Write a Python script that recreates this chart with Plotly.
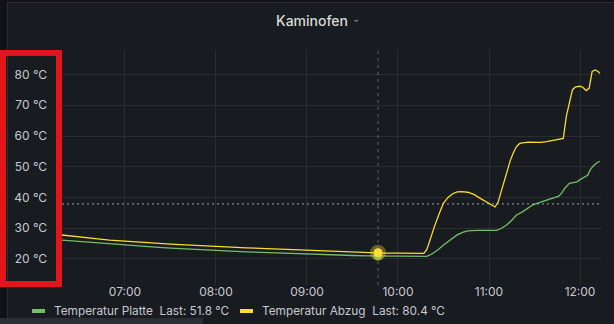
import plotly.graph_objects as go

DAY = "2021-01-10 "

# ---- data ----
abzug_times = ["06:18", "06:26", "06:34", "06:42", "06:50", "07:00", "07:10", "07:20", "07:30", "07:40",
               "07:50", "08:00", "08:10", "08:20", "08:30", "08:40", "08:50", "09:00", "09:10", "09:20",
               "09:30", "09:40", "09:50", "10:00", "10:10", "10:17", "10:19", "10:21", "10:24", "10:27",
               "10:30", "10:33", "10:36", "10:39", "10:42", "10:46", "10:50", "10:54", "10:58", "11:02",
               "11:04", "11:06", "11:08", "11:10", "11:12", "11:14", "11:16", "11:18", "11:20", "11:22",
               "11:26", "11:30", "11:34", "11:38", "11:42", "11:46", "11:49", "11:50", "11:51", "11:53",
               "11:55", "11:57", "12:00", "12:02", "12:04", "12:06", "12:07", "12:08", "12:10", "12:12",
               "12:13"]
abzug_values = [27.8, 27.3, 26.9, 26.5, 26.1, 25.7, 25.4, 25.1, 24.8, 24.5,
                24.3, 24.0, 23.8, 23.6, 23.4, 23.2, 22.9, 22.7, 22.5, 22.3,
                22.2, 22.0, 21.9, 21.9, 21.8, 21.8, 23.0, 26.2, 30.5, 34.5,
                38.2, 40.0, 41.2, 41.8, 41.9, 41.7, 41.0, 39.8, 38.6, 37.5,
                36.9, 38.5, 42.0, 45.5, 48.5, 52.0, 54.5, 56.5, 57.5, 57.8,
                58.0, 58.0, 57.9, 58.2, 58.5, 58.8, 59.2, 63.0, 66.5, 70.8,
                75.0, 76.0, 76.2, 75.8, 74.8, 75.5, 78.5, 81.0, 81.5, 81.0,
                80.4]

platte_times = ["06:18", "06:28", "06:38", "06:48", "07:00", "07:10", "07:20", "07:30", "07:40", "07:50",
                "08:00", "08:10", "08:20", "08:30", "08:40", "08:50", "09:00", "09:10", "09:20", "09:30",
                "09:40", "09:50", "10:00", "10:10", "10:19", "10:22", "10:26", "10:30", "10:34", "10:39",
                "10:43", "10:46", "10:52", "10:58", "11:05", "11:08", "11:12", "11:15", "11:18", "11:22",
                "11:26", "11:29", "11:34", "11:40", "11:46", "11:48", "11:50", "11:53", "11:55", "11:58",
                "12:00", "12:03", "12:05", "12:07", "12:09", "12:11", "12:13"]
platte_values = [26.1, 25.7, 25.3, 24.9, 24.4, 24.1, 23.8, 23.5, 23.2, 23.0,
                 22.7, 22.5, 22.3, 22.1, 21.9, 21.7, 21.5, 21.4, 21.2, 21.1,
                 21.0, 20.9, 20.8, 20.8, 20.8, 21.5, 22.8, 24.5, 26.0, 27.8,
                 28.7, 29.1, 29.3, 29.3, 29.3, 29.9, 31.2, 32.6, 34.2, 35.3,
                 36.6, 37.6, 38.5, 39.4, 40.4, 41.5, 43.0, 44.6, 44.9, 45.1,
                 45.8, 46.8, 47.2, 49.2, 50.4, 51.2, 51.8]

series_names = ["Temperatur Platte", "Temperatur Abzug"]
series_colors = ["#73bf69", "#fade2a"]
title_text = "Kaminofen"
y_ticks = [20, 30, 40, 50, 60, 70, 80]
x_range = ["06:18:30", "12:13:50"]
y_range = [11.5, 88.0]
hover_time = "09:46:50"
hover_y_value = 37.9

# ---- layout geometry (pixels) ----
W, H = 614, 324
PL, PR, PT, PB = 62, 601, 50, 285


def px(x):
    return (x - PL) / (PR - PL)


def py(y):
    return (PB - y) / (PB - PT)


def value_at(times, values, t):
    v = values[0]
    for tt, vv in zip(times, values):
        if tt <= t:
            v = vv
    return v


BG = "#181b1f"
TXT = "#c7c9d1"
GRID = "#2a2d32"

fig = go.Figure()
fig.add_trace(go.Scatter(x=[DAY + t for t in platte_times], y=platte_values, mode="lines",
                         line=dict(color=series_colors[0], width=1.3, shape="linear"), showlegend=False))
fig.add_trace(go.Scatter(x=[DAY + t for t in abzug_times], y=abzug_values, mode="lines",
                         line=dict(color=series_colors[1], width=1.3, shape="linear"), showlegend=False))

# hover markers
hv_p = value_at(platte_times, platte_values, hover_time[:5])
hv_a = value_at(abzug_times, abzug_values, hover_time[:5])
fig.add_trace(go.Scatter(x=[DAY + hover_time], y=[hv_p], mode="markers",
                         marker=dict(color=series_colors[0], size=9, opacity=0.9, line=dict(width=0)),
                         showlegend=False))
fig.add_trace(go.Scatter(x=[DAY + hover_time], y=[hv_a], mode="markers",
                         marker=dict(color="rgba(250,222,42,0.35)", size=16, line=dict(width=0)),
                         showlegend=False))
fig.add_trace(go.Scatter(x=[DAY + hover_time], y=[hv_a], mode="markers",
                         marker=dict(color=series_colors[1], size=9, line=dict(width=0)),
                         showlegend=False))

shapes = []
# crosshair
shapes.append(dict(type="line", xref="x", yref="paper", x0=DAY + hover_time, x1=DAY + hover_time,
                   y0=0, y1=1, line=dict(color="rgba(204,204,220,0.4)", width=1, dash="3px,4px")))
shapes.append(dict(type="line", xref="paper", yref="y", x0=0, x1=1, y0=hover_y_value, y1=hover_y_value,
                   line=dict(color="rgba(220,220,230,0.7)", width=1, dash="2px,3px")))
# panel frame / outer background
shapes.append(dict(type="rect", xref="paper", yref="paper", x0=px(0), x1=px(7), y0=py(H), y1=py(0),
                   fillcolor="#111217", line=dict(width=0), layer="below"))
shapes.append(dict(type="rect", xref="paper", yref="paper", x0=px(0), x1=px(W), y0=py(2), y1=py(0),
                   fillcolor="#111217", line=dict(width=0), layer="below"))
shapes.append(dict(type="line", xref="paper", yref="paper", x0=px(7.5), x1=px(7.5), y0=py(H), y1=py(2),
                   line=dict(color="#2a2d33", width=1)))
shapes.append(dict(type="line", xref="paper", yref="paper", x0=px(7), x1=px(W), y0=py(2.5), y1=py(2.5),
                   line=dict(color="#2a2d33", width=1)))
shapes.append(dict(type="rect", xref="paper", yref="paper", x0=px(0), x1=px(203), y0=py(H), y1=py(318),
                   fillcolor="#2b2e34", line=dict(width=0)))
# red highlight box
shapes.append(dict(type="rect", xref="paper", yref="paper", x0=px(3), x1=px(59), y0=py(284), y1=py(53),
                   line=dict(color="#e3151a", width=6), fillcolor="rgba(0,0,0,0)"))

# legend (markers)
legend_items = [
    (series_names[0], series_colors[0], platte_values[-1], 32),
    (series_names[1], series_colors[1], abzug_values[-1], 240),
]
annotations = []
for name, col, last, x0 in legend_items:
    shapes.append(dict(type="line", xref="paper", yref="paper", x0=px(x0), x1=px(x0 + 13),
                       y0=py(311), y1=py(311), line=dict(color=col, width=4)))
    annotations.append(dict(text=f"{name}  Last: {last:.1f} °C", xref="paper", yref="paper",
                            x=px(x0 + 20), y=py(311), xanchor="left", yanchor="middle", showarrow=False,
                            font=dict(family="Inter", size=11.8, color=TXT)))

annotations.append(dict(text=title_text, xref="paper", yref="paper", x=px(312), y=py(20),
                        xanchor="center", yanchor="middle", showarrow=False,
                        font=dict(family="Inter", size=14, color="#d8d9da", weight=500)))
annotations.append(dict(text="⌄", xref="paper", yref="paper", x=px(356), y=py(18),
                        xanchor="center", yanchor="middle", showarrow=False,
                        font=dict(family="DejaVu Sans", size=10, color="#8e9097")))

fig.update_layout(
    width=W, height=H,
    margin=dict(l=PL, r=W - PR, t=PT, b=H - PB, pad=0),
    paper_bgcolor=BG, plot_bgcolor=BG,
    showlegend=False,
    shapes=shapes, annotations=annotations,
    font=dict(family="Inter", size=12, color=TXT),
    xaxis=dict(type="date", range=[DAY + x_range[0], DAY + x_range[1]], tickformat="%H:%M",
               dtick=3600000, tick0=DAY + "07:00", showgrid=True, gridcolor=GRID, gridwidth=1,
               zeroline=False, showline=False, ticks="", ticklabelstandoff=-2,
               tickfont=dict(size=12, color=TXT), fixedrange=True),
    yaxis=dict(range=y_range, tickvals=y_ticks, ticktext=[f"{v} °C" for v in y_ticks],
               showgrid=True, gridcolor=GRID, gridwidth=1, zeroline=False, showline=False, ticks="",
               ticklabelstandoff=14, tickfont=dict(size=12, color=TXT), fixedrange=True),
)

fig.write_html("out.html", config={"displayModeBar": False})
